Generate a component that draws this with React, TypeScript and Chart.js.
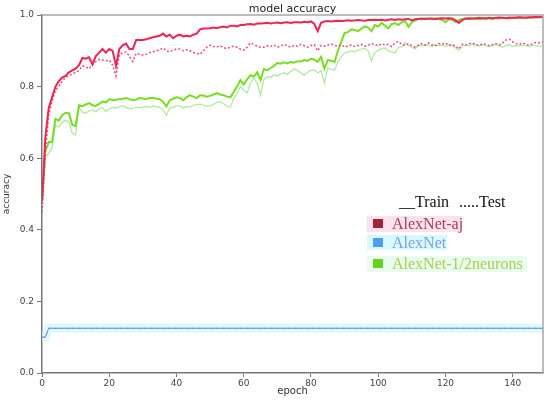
import React, { useEffect, useRef } from 'react';
import Chart from 'chart.js/auto';

// epochs 0..149
const epochs: number[] = Array.from({ length: 150 }, (_, i) => i);

const alexAjTrain = [
  0.48, 0.66, 0.74, 0.77, 0.80, 0.815, 0.825, 0.83, 0.84, 0.845,
  0.85, 0.86, 0.88, 0.878, 0.882, 0.862, 0.885, 0.895, 0.905, 0.895,
  0.905, 0.90, 0.858, 0.905, 0.915, 0.92, 0.905, 0.905, 0.93, 0.93,
  0.93, 0.932, 0.935, 0.938, 0.94, 0.942, 0.948, 0.94, 0.945, 0.935,
  0.942, 0.945, 0.94, 0.942, 0.94, 0.945, 0.948, 0.96, 0.962, 0.962,
  0.963, 0.965, 0.963, 0.966, 0.968, 0.965, 0.97, 0.97, 0.968, 0.972,
  0.972, 0.974, 0.975, 0.973, 0.976, 0.976, 0.977, 0.978, 0.976, 0.978,
  0.979, 0.977, 0.979, 0.98, 0.978, 0.98, 0.98, 0.979, 0.981, 0.98,
  0.982, 0.975, 0.955, 0.978, 0.982, 0.983, 0.982, 0.983, 0.984, 0.983,
  0.984, 0.985, 0.984, 0.985, 0.986, 0.985, 0.984, 0.986, 0.986, 0.987,
  0.986, 0.987, 0.985, 0.987, 0.988, 0.986, 0.988, 0.987, 0.988, 0.989,
  0.985, 0.988, 0.989, 0.99, 0.989, 0.99, 0.99, 0.989, 0.99, 0.991,
  0.99, 0.991, 0.99, 0.985, 0.978, 0.986, 0.99, 0.991, 0.99, 0.991,
  0.992, 0.991, 0.99, 0.992, 0.991, 0.992, 0.993, 0.992, 0.991, 0.993,
  0.992, 0.993, 0.994, 0.993, 0.993, 0.994, 0.994, 0.995, 0.994, 0.995,
];

const alexAjTest = [
  0.45, 0.62, 0.72, 0.76, 0.79, 0.80, 0.815, 0.825, 0.83, 0.835,
  0.84, 0.845, 0.858, 0.855, 0.85, 0.862, 0.87, 0.876, 0.874, 0.872,
  0.874, 0.86, 0.83, 0.89, 0.894, 0.897, 0.885, 0.87, 0.893, 0.89,
  0.888, 0.89, 0.895, 0.897, 0.90, 0.903, 0.908, 0.90, 0.897, 0.902,
  0.905, 0.905, 0.90, 0.903, 0.90, 0.895, 0.893, 0.89, 0.90, 0.91,
  0.916, 0.912, 0.911, 0.914, 0.908, 0.907, 0.91, 0.913, 0.91, 0.905,
  0.902, 0.91, 0.922, 0.918, 0.913, 0.91, 0.91, 0.914, 0.912, 0.916,
  0.91, 0.913, 0.918, 0.914, 0.91, 0.915, 0.913, 0.918, 0.914, 0.91,
  0.915, 0.917, 0.90, 0.915, 0.913, 0.916, 0.919, 0.915, 0.913, 0.917,
  0.91, 0.914, 0.916, 0.912, 0.915, 0.918, 0.913, 0.916, 0.92, 0.917,
  0.914, 0.92, 0.916, 0.918, 0.912, 0.922, 0.926, 0.918, 0.915, 0.92,
  0.914, 0.91, 0.916, 0.92, 0.916, 0.922, 0.917, 0.914, 0.92, 0.918,
  0.922, 0.915, 0.917, 0.913, 0.905, 0.918, 0.916, 0.92, 0.922, 0.917,
  0.915, 0.92, 0.918, 0.914, 0.917, 0.92, 0.916, 0.922, 0.93, 0.933,
  0.925, 0.92, 0.918, 0.922, 0.917, 0.915, 0.92, 0.924, 0.922, 0.925,
];

const halfTrain = [
  0.48, 0.62, 0.645, 0.645, 0.71, 0.705, 0.72, 0.727, 0.725, 0.693,
  0.69, 0.748, 0.745, 0.75, 0.754, 0.748, 0.746, 0.752, 0.758, 0.756,
  0.765, 0.762, 0.763, 0.765, 0.766, 0.768, 0.765, 0.762, 0.764, 0.768,
  0.767, 0.765, 0.768, 0.769, 0.766, 0.765, 0.758, 0.745, 0.762, 0.766,
  0.77, 0.768, 0.762, 0.77, 0.776, 0.772, 0.768, 0.776, 0.775, 0.772,
  0.774, 0.778, 0.782, 0.778, 0.776, 0.772, 0.77, 0.785, 0.80, 0.818,
  0.806, 0.82, 0.832, 0.828, 0.84, 0.818, 0.849, 0.846, 0.852, 0.858,
  0.866, 0.864, 0.868, 0.865, 0.869, 0.867, 0.871, 0.87, 0.874, 0.872,
  0.878, 0.875, 0.869, 0.883, 0.85, 0.874, 0.872, 0.869, 0.90, 0.925,
  0.95, 0.952, 0.96, 0.958, 0.955, 0.962, 0.968, 0.965, 0.955, 0.972,
  0.968, 0.978, 0.97, 0.963, 0.975, 0.977, 0.972, 0.98, 0.983, 0.967,
  0.98, 0.985, 0.989, 0.988, 0.99, 0.989, 0.988, 0.99, 0.989, 0.986,
  0.98, 0.988, 0.987, 0.98, 0.986, 0.989, 0.99, 0.988, 0.99, 0.989,
  0.988, 0.99, 0.991, 0.99, 0.989, 0.991, 0.99, 0.992, 0.991, 0.99,
  0.992, 0.991, 0.993, 0.992, 0.991, 0.993, 0.992, 0.993, 0.994, 0.994,
];

const halfTest = [
  0.47, 0.60, 0.614, 0.628, 0.693, 0.687, 0.70, 0.707, 0.70, 0.67,
  0.665, 0.743, 0.728, 0.726, 0.732, 0.735, 0.73, 0.738, 0.742, 0.73,
  0.738, 0.742, 0.74, 0.744, 0.746, 0.742, 0.738, 0.739, 0.743, 0.741,
  0.743, 0.745, 0.742, 0.746, 0.744, 0.742, 0.735, 0.72, 0.74, 0.742,
  0.746, 0.746, 0.74, 0.744, 0.743, 0.748, 0.75, 0.751, 0.748, 0.745,
  0.746, 0.75, 0.756, 0.758, 0.752, 0.745, 0.742, 0.766, 0.78, 0.80,
  0.79, 0.782, 0.81, 0.824, 0.81, 0.776, 0.82, 0.827, 0.826, 0.832,
  0.83, 0.836, 0.838, 0.834, 0.842, 0.849, 0.845, 0.838, 0.832, 0.84,
  0.846, 0.846, 0.838, 0.845, 0.81, 0.852, 0.848, 0.846, 0.868, 0.883,
  0.894, 0.897, 0.90, 0.897, 0.902, 0.905, 0.907, 0.90, 0.872, 0.895,
  0.902, 0.906, 0.908, 0.90, 0.897, 0.894, 0.91, 0.911, 0.922, 0.915,
  0.91, 0.905, 0.916, 0.914, 0.918, 0.915, 0.912, 0.917, 0.914, 0.916,
  0.912, 0.917, 0.915, 0.908, 0.902, 0.913, 0.916, 0.914, 0.918, 0.915,
  0.913, 0.917, 0.914, 0.912, 0.916, 0.918, 0.914, 0.91, 0.915, 0.917,
  0.912, 0.915, 0.913, 0.916, 0.914, 0.912, 0.915, 0.913, 0.914, 0.912,
];

const alexEpochs = [0, 1, 2, 149];
const alexTrain = [0.1, 0.1, 0.125, 0.125];
const alexTest = [0.1, 0.1, 0.125, 0.125];

const xTicks = [0, 20, 40, 60, 80, 100, 120, 140];
const yTicks = [0, 0.2, 0.4, 0.6, 0.8, 1.0];

const legendItems = ['AlexNet-aj', 'AlexNet', 'AlexNet-1/2neurons'];

const toXY = (xs: number[], ys: number[]) => xs.map((x, i) => ({ x, y: ys[i] }));

const overlayPlugin = {
  id: 'overlay',
  afterDraw(chart: any) {
    const ctx = chart.ctx as CanvasRenderingContext2D;
    const a = chart.chartArea;
    ctx.save();
    // frame (top/right)
    ctx.strokeStyle = '#a8a8a8';
    ctx.lineWidth = 1.5;
    ctx.beginPath();
    ctx.moveTo(a.left, a.top);
    ctx.lineTo(a.right, a.top);
    ctx.lineTo(a.right, a.bottom);
    ctx.stroke();

    // title
    ctx.fillStyle = '#222';
    ctx.font = '11px "DejaVu Sans"';
    ctx.textAlign = 'center';
    ctx.textBaseline = 'alphabetic';
    ctx.fillText('model accuracy', (a.left + a.right) / 2, 12);

    // x title
    ctx.font = '10px "DejaVu Sans"';
    ctx.fillStyle = '#333';
    ctx.fillText('epoch', (a.left + a.right) / 2, 394);

    // y title
    ctx.save();
    ctx.translate(9, (a.top + a.bottom) / 2);
    ctx.rotate(-Math.PI / 2);
    ctx.font = '9px "DejaVu Sans"';
    ctx.textAlign = 'center';
    ctx.fillText('accuracy', 0, 0);
    ctx.restore();

    // custom legend
    ctx.textAlign = 'left';
    ctx.font = '16px "Liberation Serif"';
    ctx.fillStyle = '#111';
    ctx.fillText('__Train', 399, 207);
    ctx.fillText('.....Test', 459, 207);

    const rows = [
      { bg: '#fde2ee', box: '#a0233a', text: '#a3405a', top: 216, h: 16, w: 95, base: 229 },
      { bg: '#d9fafc', box: '#4f9cf3', text: '#7d9fe6', top: 235, h: 15, w: 80, base: 248 },
      { bg: '#e9fcef', box: '#66d31e', text: '#a4d24a', top: 256, h: 16, w: 160, base: 269 },
    ];
    rows.forEach((r, i) => {
      ctx.fillStyle = r.bg;
      ctx.fillRect(367, r.top, r.w, r.h);
      ctx.fillStyle = r.box;
      ctx.fillRect(373, r.top + 3, 10, 9);
      ctx.fillStyle = r.text;
      ctx.font = '16px "Liberation Serif"';
      ctx.fillText(legendItems[i], 392, r.base);
    });
    ctx.restore();
  },
};

export default function App() {
  const ref = useRef<HTMLCanvasElement>(null);
  useEffect(() => {
    document.body.style.margin = '0';
    const canvas = ref.current!;
    const chart = new Chart(canvas, {
      type: 'line',
      data: {
        labels: epochs,
        datasets: [
          {
            label: 'AlexNet-aj train',
            data: alexAjTrain,
            borderColor: '#ee2455',
            borderWidth: 2,
            pointRadius: 0,
            tension: 0,
          },
          {
            label: 'AlexNet-aj test',
            data: alexAjTest,
            borderColor: '#ec4c82',
            borderWidth: 1.5,
            borderDash: [2, 2],
            pointRadius: 0,
            tension: 0,
          },
          {
            label: 'AlexNet-1/2neurons train',
            data: halfTrain,
            borderColor: '#79dc25',
            borderWidth: 2,
            pointRadius: 0,
            tension: 0,
          },
          {
            label: 'AlexNet-1/2neurons test',
            data: halfTest,
            borderColor: '#ade99a',
            borderWidth: 1.2,
            pointRadius: 0,
            tension: 0,
          },
          {
            label: 'AlexNet train',
            data: toXY(alexEpochs, alexTrain),
            borderColor: '#6f82ee',
            borderWidth: 1,
            pointRadius: 0,
            tension: 0,
          },
          {
            label: 'AlexNet test',
            data: toXY(alexEpochs, alexTest),
            borderColor: '#9aa8f2',
            borderWidth: 1,
            borderDash: [3, 3],
            pointRadius: 0,
            tension: 0,
          },
          {
            label: 'AlexNet band',
            data: toXY(alexEpochs, alexTrain),
            borderColor: 'rgba(205,250,255,0.7)',
            borderWidth: 9,
            pointRadius: 0,
            tension: 0,
          },
        ],
      },
      options: {
        animation: false,
        responsive: false,
        devicePixelRatio: 1,
        layout: { padding: { top: 15, right: 7, left: 0, bottom: 0 } },
        plugins: {
          legend: { display: false },
          title: { display: false },
          tooltip: { enabled: false },
        },
        scales: {
          x: {
            type: 'linear',
            min: 0,
            max: 149,
            afterFit: (s: any) => {
              s.height = 27;
            },
            afterBuildTicks: (s: any) => {
              s.ticks = xTicks.map((v) => ({ value: v }));
            },
            ticks: {
              includeBounds: false,
              autoSkip: false,
              maxRotation: 0,
              padding: 1,
              color: '#444',
              font: { family: 'DejaVu Sans', size: 9 },
            },
            grid: { drawOnChartArea: false, tickLength: 4, color: '#777' },
            border: { color: '#777', width: 1.5 },
          },
          y: {
            min: 0,
            max: 1,
            afterFit: (s: any) => {
              s.width = 42;
            },
            afterBuildTicks: (s: any) => {
              s.ticks = yTicks.map((v) => ({ value: v }));
            },
            ticks: {
              includeBounds: false,
              padding: 3,
              color: '#444',
              font: { family: 'DejaVu Sans', size: 9 },
              callback: (v: any) => Number(v).toFixed(1),
            },
            grid: { drawOnChartArea: false, tickLength: 5, color: '#777' },
            border: { color: '#777', width: 1.5 },
          },
        },
      },
      plugins: [overlayPlugin],
    });
    return () => chart.destroy();
  }, []);
  return (
    <div style={{ position: 'absolute', left: 0, top: 0, width: 550, height: 400, background: '#fff' }}>
      <canvas ref={ref} width={550} height={400} />
    </div>
  );
}
